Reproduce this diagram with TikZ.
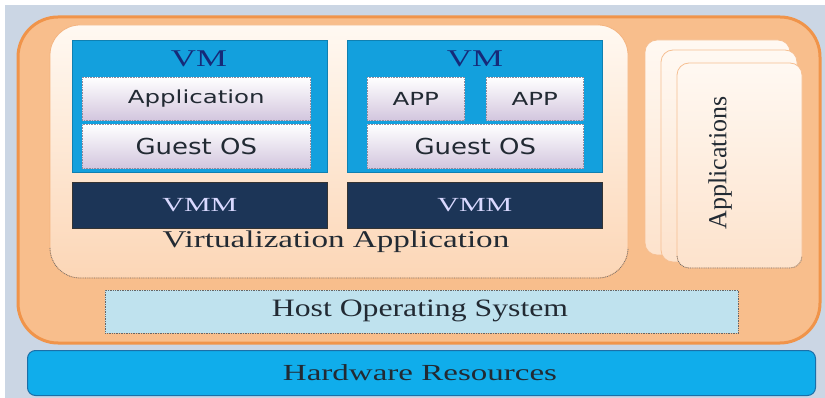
\documentclass[tikz,border=0pt]{standalone}
\usepackage{fontspec}
\setmainfont{Liberation Serif}
\newfontfamily\vsans{DejaVu Sans}
\usetikzlibrary{shadings}
\definecolor{bgc}{HTML}{CBD6E4}
\definecolor{orb}{HTML}{F0944A}
\definecolor{orf}{HTML}{F8BE8C}
\definecolor{peachT}{HTML}{FFF9F2}
\definecolor{peachB}{HTML}{FCD6B6}
\definecolor{vmblue}{HTML}{13A0DD}
\definecolor{lavT}{HTML}{FFFFFF}
\definecolor{lavB}{HTML}{D3C6DE}
\definecolor{navy}{HTML}{1C3557}
\definecolor{hostc}{HTML}{BFE2EE}
\definecolor{hwc}{HTML}{10ADEB}
\definecolor{hwb}{HTML}{1B6FA8}
\definecolor{txt}{HTML}{222A33}
\tikzset{
  vmbox/.style={draw=vmblue!80!black, line width=0.6pt, fill=vmblue, rectangle, anchor=north west, inner sep=0},
  lavbox/.style={rectangle, anchor=north west, inner sep=0, top color=lavT, bottom color=lavB, draw=lavB!70!black, densely dotted, line width=0.6pt},
  vmmbox/.style={rectangle, anchor=north west, inner sep=0, fill=navy, draw=black!80, line width=0.8pt},
  vmmtxt/.style={text=white!85!blue, font=\fontsize{20}{22}\selectfont, xscale=1.5},
  apptxt/.style={text=txt, font=\vsans\fontsize{18}{20}\selectfont, xscale=1.36},
  gostxt/.style={text=txt, font=\vsans\fontsize{22}{24}\selectfont, xscale=1.18},
  bigtxt/.style={text=txt, font=\fontsize{24}{26}\selectfont, xscale=1.38},
  card/.style={rounded corners=12pt, top color=white!95!orange, bottom color=peachB!70!white, draw=orb!60!white, line width=0.8pt},
  dotedge/.style={draw=black!55, densely dotted, line width=0.8pt},
}
\begin{document}
\begin{tikzpicture}[x=1pt,y=-1pt]
\useasboundingbox (0,0) rectangle (825,398);
\fill[white] (0,0) rectangle (825,398);
\fill[bgc] (5,5) rectangle (825,398);
% outer orange
\draw[orb, line width=3pt, fill=orf, rounded corners=40pt] (18,17) rectangle (820,343);
% applications cards
\draw[card] (645,40) rectangle (790,255);
\draw[card] (661,50) rectangle (797,262);
\draw[card] (677,63) rectangle (802,268);
\draw[dotedge, rounded corners=12pt] (677,256) -- (677,268) -- (802,268) -- (802,256);
\node[rotate=90, font=\fontsize{26}{28}\selectfont, text=txt] (apps) at (720,163) {Applications};
% virtualization application inner box
\draw[rounded corners=30pt, top color=peachT, bottom color=peachB, draw=orb!70!white, line width=0.8pt] (50,25) rectangle (628,278);
\draw[dotedge, rounded corners=30pt] (50,248) -- (50,278) -- (628,278) -- (628,248);
% VM 1
\node[vmbox, minimum width=255pt, minimum height=132pt] (vm1) at (72,40) {};
\node[text=navy!80!blue, font=\fontsize{24}{26}\selectfont, xscale=1.45] (vm1l) at (199,59) {VM};
\node[lavbox, minimum width=228pt, minimum height=43pt] (app1) at (82,77) {};
\node[apptxt] at (app1.center) {Application};
\node[lavbox, minimum width=228pt, minimum height=44pt] (gos1) at (82,124) {};
\node[gostxt] at (gos1.center) {Guest OS};
% VM 2
\node[vmbox, minimum width=255pt, minimum height=132pt] (vm2) at (347,40) {};
\node[text=navy!80!blue, font=\fontsize{24}{26}\selectfont, xscale=1.45] (vm2l) at (475,59) {VM};
\node[lavbox, minimum width=97pt, minimum height=43pt] (appa) at (367,77) {};
\node[apptxt] at (appa.center) {APP};
\node[lavbox, minimum width=97pt, minimum height=43pt] (appb) at (486,77) {};
\node[apptxt] at (appb.center) {APP};
\node[lavbox, minimum width=216pt, minimum height=44pt] (gos2) at (367,124) {};
\node[gostxt] at (gos2.center) {Guest OS};
% VMMs
\node[vmmbox, minimum width=255pt, minimum height=46pt] (vmm1) at (72,182) {};
\node[vmmtxt] at (vmm1.center) {VMM};
\node[vmmbox, minimum width=255pt, minimum height=46pt] (vmm2) at (347,182) {};
\node[vmmtxt] at (vmm2.center) {VMM};
\node[bigtxt] (virt) at (336,242) {Virtualization Application};
% host OS
\node[rectangle, anchor=north west, inner sep=0, fill=hostc, draw=black!60, densely dotted, line width=0.7pt, minimum width=633pt, minimum height=43pt] (host) at (105,290) {};
\node[bigtxt, font=\fontsize{25}{27}\selectfont, xscale=0.92] at (420,311) {Host Operating System};
% hardware
\node[rectangle, rounded corners=8pt, anchor=north west, inner sep=0, fill=hwc, draw=hwb, line width=1pt, minimum width=788pt, minimum height=45pt] (hw) at (27,350) {};
\node[bigtxt, font=\fontsize{23}{25}\selectfont, xscale=1.04] at (420,373) {Hardware Resources};
\end{tikzpicture}
\end{document}
